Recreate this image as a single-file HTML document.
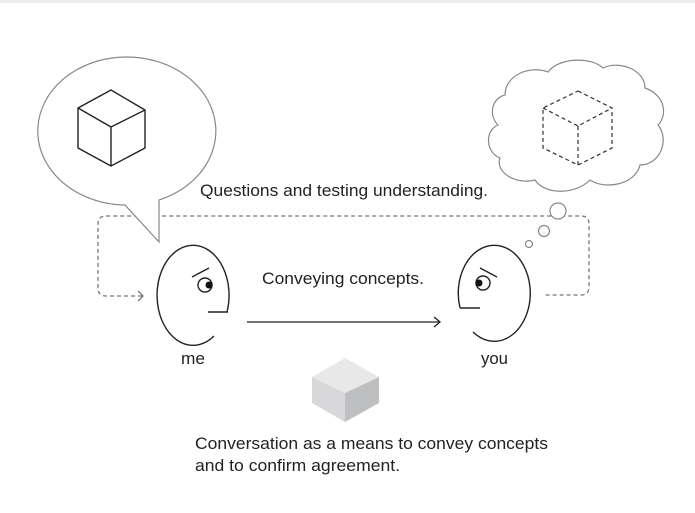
<!DOCTYPE html>
<html><head><meta charset="utf-8"><style>
html,body{margin:0;padding:0;background:#fff;}
svg{display:block;}
text{font-family:"Liberation Sans Narrow","Liberation Sans",sans-serif;fill:#222;}
</style></head><body>
<svg width="695" height="513" viewBox="0 0 695 513" xmlns="http://www.w3.org/2000/svg">
<rect x="0" y="0" width="695" height="3" fill="#eee"/>
<!-- dashed loop -->
<path d="M142,296 L106,296 Q98,296 98,288 L98,224 Q98,216 106,216 L581,216 Q589,216 589,224 L589,287 Q589,295 581,295 L545,295" fill="none" stroke="#777" stroke-width="1.3" stroke-dasharray="4,3"/>
<path d="M138,291 L143,296 L138,301" fill="none" stroke="#777" stroke-width="1.3"/>
<!-- speech bubble -->
<path d="M125,205 A89,74 0 1 1 159,200 L159,242 Z" fill="#fff" stroke="#888" stroke-width="1.2"/>
<!-- solid cube -->
<g fill="none" stroke="#222" stroke-width="1.4" stroke-linejoin="round">
<path d="M111,90 L145,110 L145,148 L111,166 L78,148 L78,108 Z"/>
<path d="M78,108 L111,127 L145,110 M111,127 L111,166"/>
</g>
<!-- cloud -->
<path d="M505,95 C505,75 530,65 548,72 C558,58 590,56 603,68 C620,60 645,70 645,88 C665,95 668,115 658,125 C670,140 660,165 640,165 C635,185 605,190 590,180 C575,195 545,195 535,180 C515,185 495,172 500,158 C485,152 485,130 498,125 C488,115 492,98 505,95 Z" fill="#fff" stroke="#888" stroke-width="1.2"/>
<g fill="none" stroke="#333" stroke-width="1.2" stroke-dasharray="4,3">
<path d="M578,91 L612,108 L612,148 L578,165 L543,148 L543,108 Z"/>
<path d="M543,108 L578,126 L612,108 M578,126 L578,165"/>
</g>
<!-- thought bubbles -->
<circle cx="558" cy="211" r="8" fill="#fff" stroke="#888" stroke-width="1.2"/>
<circle cx="544" cy="231" r="5.5" fill="#fff" stroke="#888" stroke-width="1.2"/>
<circle cx="529" cy="244" r="3.5" fill="#fff" stroke="#888" stroke-width="1.2"/>
<!-- me head -->
<g fill="none" stroke="#222" stroke-width="1.4">
<path d="M227,312 A36,50 0 1 0 214,336"/>
<path d="M208,312 L228,312"/>
<path d="M192,277 L209,268"/>
<circle cx="205" cy="285" r="7"/>
</g>
<circle cx="209" cy="285" r="3.5" fill="#111"/>
<!-- you head -->
<g fill="none" stroke="#222" stroke-width="1.4">
<path d="M460,308 A36,48 0 1 1 473,332"/>
<path d="M460,308 L480,308"/>
<path d="M480,268 L497,277"/>
<circle cx="483" cy="283" r="7"/>
</g>
<circle cx="479" cy="283" r="3.5" fill="#111"/>
<!-- arrow -->
<path d="M247,322 L440,322" stroke="#222" stroke-width="1.3"/>
<path d="M434,317 L440,322 L434,327" fill="none" stroke="#222" stroke-width="1.3"/>
<!-- gray cube -->
<path d="M345,358 L379,377 L345,393 L312,377 Z" fill="#e8e8e9"/>
<path d="M312,377 L345,393 L345,422 L312,403 Z" fill="#d8d8da"/>
<path d="M379,377 L345,393 L345,422 L379,403 Z" fill="#bebfc1"/>
<!-- texts -->
<text x="200" y="196" font-size="16.5" textLength="288" lengthAdjust="spacingAndGlyphs">Questions and testing understanding.</text>
<text x="262" y="284" font-size="16.5" textLength="162" lengthAdjust="spacingAndGlyphs">Conveying concepts.</text>
<text x="181" y="364" font-size="16.5" textLength="24" lengthAdjust="spacingAndGlyphs">me</text>
<text x="481" y="364" font-size="16.5" textLength="27" lengthAdjust="spacingAndGlyphs">you</text>
<text x="195" y="449" font-size="16.5" textLength="353" lengthAdjust="spacingAndGlyphs">Conversation as a means to convey concepts</text>
<text x="195" y="471" font-size="16.5" textLength="205" lengthAdjust="spacingAndGlyphs">and to confirm agreement.</text>
</svg>
</body></html>
